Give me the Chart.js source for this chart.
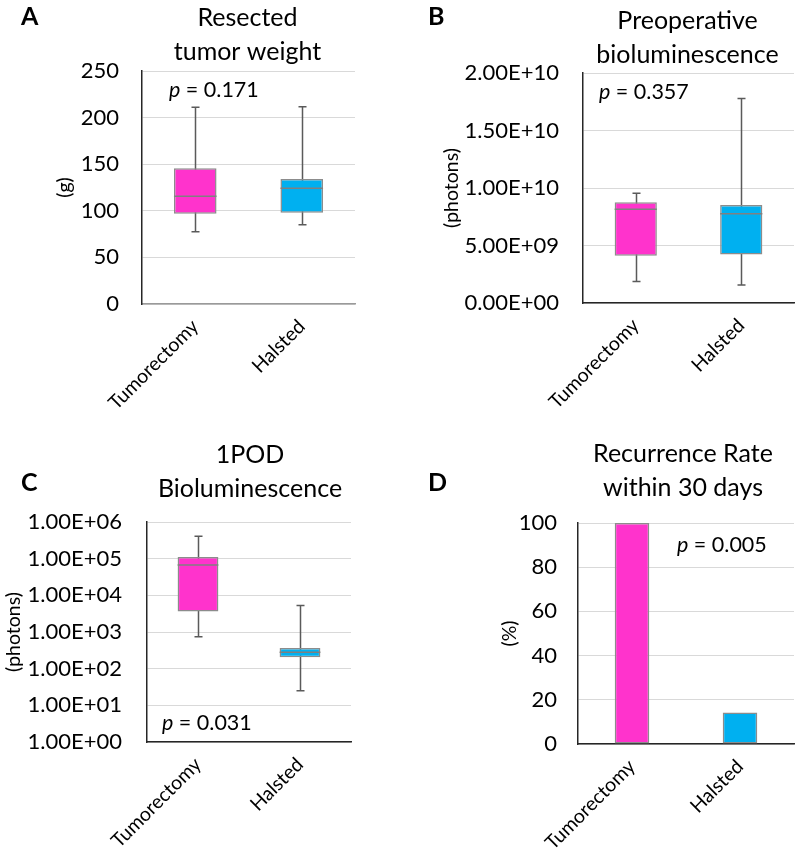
<!DOCTYPE html>
<html>
<head>
<meta charset="utf-8">
<script src="https://cdn.jsdelivr.net/npm/chart.js@4.4.1/dist/chart.umd.min.js"></script>
<style>
  html, body { margin: 0; padding: 0; background: #fff; }
  #wrap { position: relative; width: 800px; height: 860px; background: #fff; }
  canvas { position: absolute; }
</style>
</head>
<body>
<div id="wrap">
  <canvas id="cA" width="400" height="420" style="left:0;top:0"></canvas>
  <canvas id="cB" width="400" height="420" style="left:400px;top:0"></canvas>
  <canvas id="cC" width="400" height="440" style="left:0;top:420px"></canvas>
  <canvas id="cD" width="400" height="440" style="left:400px;top:420px"></canvas>
</div>
<script>
// ---------------- DATA ----------------
const categories = ['Tumorectomy', 'Halsted'];

// A: Resected tumor weight (g)
const weightMin    = [77.6, 85.1];
const weightQ1     = [96.9, 98.0];
const weightMedian = [115.6, 124.1];
const weightQ3     = [145.6, 134.1];
const weightMax    = [211.0, 211.7];
const weightTicks  = [0, 50, 100, 150, 200, 250];

// B: Preoperative bioluminescence (photons)
const preopMin    = [1.87e9, 1.56e9];
const preopQ1     = [4.10e9, 4.22e9];
const preopMedian = [8.15e9, 7.77e9];
const preopQ3     = [8.76e9, 8.53e9];
const preopMax    = [9.54e9, 1.778e10];
const preopTicks  = [0, 5e9, 1e10, 1.5e10, 2e10];

// C: 1POD bioluminescence (photons, log scale)
const podMin    = [745, 25];
const podQ1     = [3.6e3, 204];
const podMedian = [6.7e4, 279];
const podQ3     = [1.11e5, 366];
const podMax    = [4.1e5, 5.3e3];
const podTicks  = [1, 10, 100, 1e3, 1e4, 1e5, 1e6];

// D: Recurrence rate within 30 days (%)
const recurrenceRate  = [100, 14.3];
const recurrenceTicks = [0, 20, 40, 60, 80, 100];

// p values
const pValues = ['0.171', '0.357', '0.031', '0.005'];

// ---------------- STYLE ----------------
const FONT = 'Lato, "Open Sans", "Liberation Sans", sans-serif';
const PINK = '#FF33CC';
const BLUE = '#00B0F0';
const BOX_BORDER = '#8c8c8c';
const WHISKER = '#5a5a5a';
const GRID = '#d9d9d9';

function sci(v) {
  if (v === 0) return '0.00E+00';
  const e = Math.floor(Math.log10(v) + 1e-9);
  const m = v / Math.pow(10, e);
  return m.toFixed(2) + 'E' + (e < 0 ? '-' : '+') + String(Math.abs(e)).padStart(2, '0');
}

const boxExtras = {
  id: 'boxExtras',
  beforeDatasetsDraw(chart, args, opts) {
    if (!opts || !opts.min) return;
    const ctx = chart.ctx, x = chart.scales.x, y = chart.scales.y;
    ctx.save();
    ctx.strokeStyle = WHISKER;
    ctx.lineWidth = 1.5;
    opts.min.forEach((mn, i) => {
      const px = Math.round(x.getPixelForValue(i)) + 0.5;
      const y0 = y.getPixelForValue(mn);
      const y1 = y.getPixelForValue(opts.max[i]);
      ctx.beginPath();
      ctx.moveTo(px, y0); ctx.lineTo(px, y1);
      ctx.moveTo(px - 4, y0); ctx.lineTo(px + 4, y0);
      ctx.moveTo(px - 4, y1); ctx.lineTo(px + 4, y1);
      ctx.stroke();
    });
    ctx.restore();
  },
  afterDatasetsDraw(chart, args, opts) {
    if (!opts || !opts.median) return;
    const ctx = chart.ctx, y = chart.scales.y;
    const meta = chart.getDatasetMeta(0);
    ctx.save();
    ctx.strokeStyle = '#808080';
    ctx.lineWidth = 1.5;
    opts.median.forEach((md, i) => {
      const el = meta.data[i];
      const py = y.getPixelForValue(md);
      ctx.beginPath();
      ctx.moveTo(el.x - el.width / 2, py);
      ctx.lineTo(el.x + el.width / 2, py);
      ctx.stroke();
    });
    ctx.restore();
  }
};

const panelText = {
  id: 'panelText',
  afterDraw(chart, args, o) {
    const ctx = chart.ctx, ca = chart.chartArea;
    ctx.save();
    ctx.fillStyle = '#000';
    ctx.textBaseline = 'alphabetic';
    // letter
    ctx.font = 'bold 25px ' + FONT;
    ctx.textAlign = 'left';
    ctx.fillText(o.letter, o.letterX, o.letterY);
    // title
    ctx.font = '25px ' + FONT;
    ctx.textAlign = 'center';
    const cx = (ca.left + ca.right) / 2 + (o.titleDX || 0);
    o.title.forEach((line, i) => ctx.fillText(line, cx, o.titleY + i * o.titleGap));
    // p value
    ctx.textAlign = 'left';
    ctx.font = 'italic 21.5px ' + FONT;
    ctx.fillText('p', o.pX, o.pY);
    const w = ctx.measureText('p').width;
    ctx.font = '21.5px ' + FONT;
    ctx.fillText(' = ' + o.p, o.pX + w, o.pY);
    ctx.restore();
  }
};

function makeChart(id, cfg) {
  const boxMode = cfg.box;
  const datasets = boxMode
    ? [{
        data: categories.map((c, i) => [cfg.q1[i], cfg.q3[i]]),
        backgroundColor: [PINK, BLUE],
        borderColor: BOX_BORDER,
        borderWidth: 1.5,
        borderSkipped: false,
        barPercentage: 0.4,
        categoryPercentage: 1.0
      }]
    : [{
        data: cfg.values,
        backgroundColor: [PINK, BLUE],
        borderColor: BOX_BORDER,
        borderWidth: 1.5,
        borderSkipped: false,
        barPercentage: 0.32,
        categoryPercentage: 1.0
      }];

  return new Chart(document.getElementById(id), {
    type: 'bar',
    data: { labels: categories, datasets },
    plugins: [boxExtras, panelText],
    options: {
      responsive: false,
      animation: false,
      devicePixelRatio: 1,
      layout: { padding: { top: cfg.top, right: cfg.right, bottom: 0, left: 0 } },
      plugins: {
        legend: { display: false },
        tooltip: { enabled: false },
        title: { display: false },
        boxExtras: boxMode ? { min: cfg.min, median: cfg.median, max: cfg.max } : {},
        panelText: cfg.text
      },
      scales: {
        x: {
          grid: { display: false, drawTicks: false },
          border: { display: true, color: cfg.xBorder || '#262626', width: 1.5 },
          ticks: {
            color: '#000',
            font: { family: FONT, size: 19.5 },
            minRotation: 45, maxRotation: 45,
            autoSkip: false,
            padding: 11
          },
          afterFit: (s) => { s.height = cfg.xHeight; }
        },
        y: {
          type: cfg.log ? 'logarithmic' : 'linear',
          min: cfg.ticks[0],
          max: cfg.ticks[cfg.ticks.length - 1],
          grid: { color: GRID, lineWidth: 1, drawTicks: false },
          border: { display: true, color: '#262626', width: 1.5 },
          ticks: {
            color: '#000',
            font: { family: FONT, size: 22 },
            padding: cfg.tickPad,
            callback: cfg.sci ? (v) => sci(v) : (v) => String(v)
          },
          afterBuildTicks: (s) => { s.ticks = cfg.ticks.map(v => ({ value: v })); },
          title: {
            display: true,
            text: cfg.yTitle,
            color: '#000',
            font: { family: FONT, size: 19.5 },
            padding: { top: cfg.yTitlePad, bottom: 0 }
          },
          afterFit: (s) => { s.width = cfg.yWidth; }
        }
      }
    }
  });
}

makeChart('cA', {
  box: true, q1: weightQ1, q3: weightQ3, min: weightMin, median: weightMedian, max: weightMax,
  ticks: weightTicks, top: 71, right: 45, xHeight: 116, yWidth: 142, tickPad: 23,
  yTitle: '(g)', yTitlePad: 53, xBorder: '#9a9a9a',
  text: { letter: 'A', letterX: 21, letterY: 25, title: ['Resected', 'tumor weight'],
          titleY: 26, titleGap: 33.5, titleDX: -1, p: pValues[0], pX: 169, pY: 97 }
});

makeChart('cB', {
  box: true, q1: preopQ1, q3: preopQ3, min: preopMin, median: preopMedian, max: preopMax,
  ticks: preopTicks, sci: true, top: 73, right: 6, xHeight: 117, yWidth: 183, tickPad: 24,
  yTitle: '(photons)', yTitlePad: 40,
  text: { letter: 'B', letterX: 28, letterY: 25, title: ['Preoperative', 'bioluminescence'],
          titleY: 29, titleGap: 33.5, titleDX: -1, p: pValues[1], pX: 199, pY: 99 }
});

makeChart('cC', {
  box: true, q1: podQ1, q3: podQ3, min: podMin, median: podMedian, max: podMax,
  ticks: podTicks, sci: true, log: true, top: 102, right: 49, xHeight: 118, yWidth: 147, tickPad: 25,
  yTitle: '(photons)', yTitlePad: 2,
  text: { letter: 'C', letterX: 21, letterY: 71, title: ['1POD', 'Bioluminescence'],
          titleY: 43, titleGap: 34, titleDX: 1, p: pValues[2], pX: 162, pY: 310 }
});

makeChart('cD', {
  box: false, values: recurrenceRate,
  ticks: recurrenceTicks, top: 103, right: 6, xHeight: 116, yWidth: 178, tickPad: 21,
  yTitle: '(%)', yTitlePad: 98,
  text: { letter: 'D', letterX: 28, letterY: 71, title: ['Recurrence Rate', 'within 30 days'],
          titleY: 42, titleGap: 34, titleDX: -3, p: pValues[3], pX: 277, pY: 132 }
});
</script>
</body>
</html>
